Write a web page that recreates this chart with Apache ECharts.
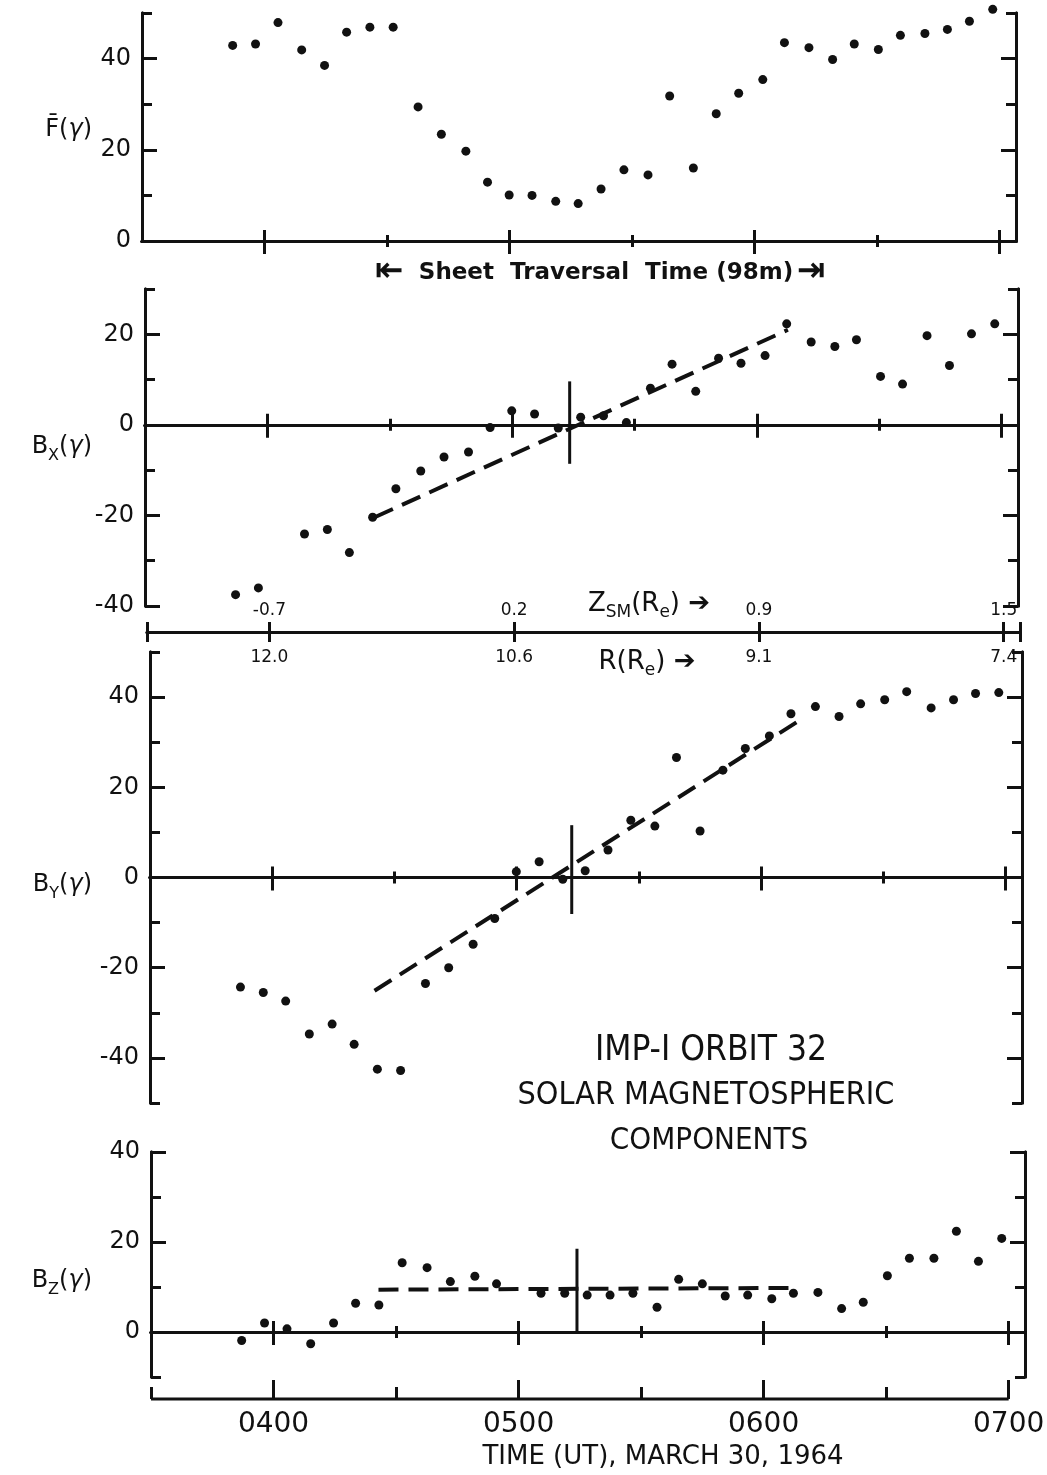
<!DOCTYPE html>
<html><head><meta charset="utf-8">
<script src="https://cdn.jsdelivr.net/npm/echarts@6/dist/echarts.min.js"></script>
<style>html,body{margin:0;padding:0;background:#fff}#c{width:1047px;height:1475px}</style>
</head><body><div id="c"></div>
<script>
// ---------- DATA ----------
// centre time of each telemetry sequence, minutes after 00:00 UT
const times = [232.2, 237.8, 243.3, 249.1, 254.7, 260.1, 265.8, 271.5, 277.6, 283.3, 289.3, 294.6, 299.9, 305.5, 311.3, 316.8, 322.4, 328.0, 333.9, 339.2, 345.0, 350.6, 356.1, 362.0, 367.3, 373.3, 379.1, 384.4, 390.3, 395.7, 401.7, 407.2, 412.6, 418.3];
const Fbar = [42.9, 43.2, 47.9, 41.9, 38.5, 45.8, 46.9, 46.9, 29.4, 23.4, 19.7, 12.9, 10.1, 10.0, 8.7, 8.2, 11.4, 15.6, 14.5, 31.8, 16.0, 27.9, 32.4, 35.4, 43.5, 42.4, 39.8, 43.2, 42.0, 45.1, 45.5, 46.4, 48.2, 50.8];
const Bx = [-37.5, -36.0, null, -24.1, -23.1, -28.2, -20.4, -14.1, -10.2, -7.1, -6.0, -0.6, 3.1, 2.4, -0.7, 1.7, 2.0, 0.5, 8.1, 13.4, 7.4, 14.7, 13.6, 15.3, 22.3, 18.3, 17.3, 18.8, 10.7, 9.0, 19.7, 13.1, 20.1, 22.3];
const By = [-24.3, -25.5, -27.4, -34.7, -32.5, -37.0, -42.5, -42.8, -23.5, -20.0, -14.8, -9.1, 1.3, 3.5, -0.4, 1.5, 6.1, 12.7, 11.4, 26.6, 10.3, 23.8, 28.6, 31.4, 36.3, 37.9, 35.7, 38.5, 39.4, 41.2, 37.6, 39.4, 40.8, 41.0];
const Bz = [-1.9, 2.0, 0.7, -2.6, 2.0, 6.4, 6.0, 15.4, 14.3, 11.2, 12.4, 10.7, null, 8.6, 8.6, 8.2, 8.2, 8.6, 5.5, 11.7, 10.7, 8.0, 8.2, 7.4, 8.6, 8.8, 5.2, 6.6, 12.5, 16.4, 16.4, 22.4, 15.7, 20.8];
// dashed trend lines across the sheet [time, value]
const bxFit = [[266.3, -20.4], [367.6, 21.0]];
const byFit = [[265.1, -25.1], [369.5, 34.9]];
const bzFit = [[265.7, 9.4], [368.5, 9.8]];
// vertical bars at the neutral-sheet crossing [time, value]
const bxMark = [[314.1, 9.6], [314.1, -8.6]];
const byMark = [[313.5, 11.6], [313.5, -8.1]];
const bzMark = [[314.3, 18.5], [314.3, 0]];
// tick labels
const timeTickLabels = ['0400', '0500', '0600', '0700'];
const halfTickLabels = ['0330', '0430', '0530', '0630'];
const zsmLabels = ['-0.7', '0.2', '0.9', '1.5'];
const rLabels = ['12.0', '10.6', '9.1', '7.4'];
const axisStart = '0330', axisEnd = '0704';

// ---------- LAYOUT / STYLE ----------
const INK = '#111';
const FONT = '"DejaVu Sans", sans-serif';
const COND = '"DejaVu Sans Condensed", "DejaVu Sans", sans-serif';
const layout = {
  F:  {left: 142, top: 13,   width: 874, height: 228, ymin: 0,   ymax: 50},
  Bx: {left: 145, top: 289,  width: 873, height: 317, ymin: -40, ymax: 30},
  S:  {left: 147, top: 631,  width: 873, height: 1},
  By: {left: 150, top: 652,  width: 872, height: 451, ymin: -50, ymax: 50},
  Bz: {left: 151, top: 1152, width: 874, height: 225, ymin: -10, ymax: 40}
};
const bottomAxisOffset = 22;

const toMin = s => parseInt(s.slice(0, 2), 10) * 60 + parseInt(s.slice(2), 10);
const hhmm = v => { const r = Math.round(v), h = Math.floor(r / 60), m = r % 60; return String(h).padStart(2, '0') + String(m).padStart(2, '0'); };
const T0 = toMin(axisStart), T1 = toMin(axisEnd);
const hourTicks = timeTickLabels.map(toMin);
const halfTicks = halfTickLabels.map(toMin);
const halfInner = halfTicks.filter(v => v > T0);
const idxOf = v => hourTicks.findIndex(t => Math.abs(t - v) < 0.01);
const line = w => ({color: INK, width: w});

const grid = [], xAxis = [], yAxis = [], series = [];

function addGrid(g) {
  grid.push({left: g.left, top: g.top, width: g.width, height: g.height, show: false, containLabel: false, outerBoundsMode: 'none'});
  return grid.length - 1;
}

function addY(gi, ymin, ymax, pos, labels) {
  const all = []; for (let v = ymin; v <= ymax; v += 10) all.push(v);
  const major = all.filter(v => v % 20 === 0), minor = all.filter(v => v % 20 !== 0);
  const common = {gridIndex: gi, type: 'value', min: ymin, max: ymax, position: pos, splitLine: {show: false},
    axisLine: {show: true, onZero: false, lineStyle: line(3)}};
  yAxis.push(Object.assign({}, common, {
    axisTick: {show: true, inside: true, length: 15, customValues: major, lineStyle: line(3)},
    axisLabel: {show: labels, customValues: major, margin: 11, color: INK, fontSize: 24, fontFamily: FONT}}));
  const idx = yAxis.length - 1;
  yAxis.push(Object.assign({}, common, {
    axisTick: {show: true, inside: true, length: 10, customValues: minor, lineStyle: line(3)},
    axisLabel: {show: false}}));
  return idx;
}

function addZeroX(gi, yi) {
  const mk = (vals, inside, len) => ({gridIndex: gi, type: 'value', min: T0, max: T1, position: 'bottom', splitLine: {show: false},
    axisLine: {show: true, onZero: true, onZeroAxisIndex: yi, lineStyle: line(3)},
    axisTick: {show: true, inside: inside, length: len, customValues: vals, lineStyle: line(3)},
    axisLabel: {show: false}});
  xAxis.push(mk(hourTicks, false, 13)); const idx = xAxis.length - 1;
  xAxis.push(mk(hourTicks, true, 11));
  xAxis.push(mk(halfInner, false, 6));
  xAxis.push(mk(halfInner, true, 6));
  return idx;
}

function addPanel(key, vals, fit, mark) {
  const L = layout[key];
  const gi = addGrid(L);
  const yi = addY(gi, L.ymin, L.ymax, 'left', true);
  addY(gi, L.ymin, L.ymax, 'right', false);
  const xi = addZeroX(gi, yi);
  series.push({type: 'scatter', xAxisIndex: xi, yAxisIndex: yi, clip: false, silent: true,
    symbol: 'circle', symbolSize: 9, itemStyle: {color: INK, opacity: 1},
    data: times.map((t, i) => [t, vals[i]]).filter(p => p[1] != null)});
  if (fit) series.push({type: 'line', xAxisIndex: xi, yAxisIndex: yi, symbol: 'none', silent: true, clip: false,
    lineStyle: {color: INK, width: 4, type: [20, 10]}, data: fit});
  if (mark) series.push({type: 'line', xAxisIndex: xi, yAxisIndex: yi, symbol: 'none', silent: true, clip: false,
    lineStyle: {color: INK, width: 3}, data: mark});
  return {gi: gi, xi: xi, yi: yi};
}

addPanel('F', Fbar, null, null);
addPanel('Bx', Bx, bxFit, bxMark);

// Z_SM / R scale
const gS = addGrid(layout.S);
yAxis.push({gridIndex: gS, type: 'value', min: 0, max: 1, show: false});
const scaleTicks = [T0].concat(hourTicks, [T1]);
xAxis.push({gridIndex: gS, type: 'value', min: T0, max: T1, position: 'bottom', splitLine: {show: false},
  axisLine: {show: true, onZero: false, lineStyle: line(3)},
  axisTick: {show: true, inside: true, length: 10, customValues: scaleTicks, lineStyle: line(3)},
  axisLabel: {show: true, inside: true, customValues: hourTicks, formatter: v => zsmLabels[idxOf(v)] || '',
    margin: 13, color: INK, fontSize: 17, fontFamily: FONT}});
xAxis.push({gridIndex: gS, type: 'value', min: T0, max: T1, position: 'bottom', splitLine: {show: false},
  axisLine: {show: true, onZero: false, lineStyle: line(3)},
  axisTick: {show: true, inside: false, length: 10, customValues: scaleTicks, lineStyle: line(3)},
  axisLabel: {show: true, inside: false, customValues: hourTicks, formatter: v => rLabels[idxOf(v)] || '',
    margin: 17, color: INK, fontSize: 17, fontFamily: FONT}});

addPanel('By', By, byFit, byMark);
const pz = addPanel('Bz', Bz, bzFit, bzMark);

// bottom time axis (its visible baseline stops at the 0700 tick, drawn below)
const hiddenLine = {show: true, onZero: false, lineStyle: {color: INK, width: 3, opacity: 0}};
xAxis.push({gridIndex: pz.gi, type: 'value', min: T0, max: T1, position: 'bottom', offset: bottomAxisOffset, splitLine: {show: false},
  axisLine: hiddenLine,
  axisTick: {show: true, inside: true, length: 19, customValues: hourTicks, lineStyle: line(3)},
  axisLabel: {show: true, customValues: hourTicks, formatter: hhmm, margin: 12, color: INK, fontSize: 28, fontFamily: FONT}});
xAxis.push({gridIndex: pz.gi, type: 'value', min: T0, max: T1, position: 'bottom', offset: bottomAxisOffset, splitLine: {show: false},
  axisLine: hiddenLine,
  axisTick: {show: true, inside: true, length: 12, customValues: halfTicks, lineStyle: line(3)},
  axisLabel: {show: false}});

// ---------- TEXT ----------
const nameRich = {
  a: {fontSize: 24, fontFamily: FONT, fill: INK, lineHeight: 34},
  g: {fontSize: 24, fontFamily: FONT, fontStyle: 'italic', fill: INK, lineHeight: 34},
  s: {fontSize: 16, fontFamily: FONT, fill: INK, lineHeight: 34, verticalAlign: 'bottom'}
};
function txt(x, y, text, opt) {
  return {type: 'text', x: x, y: y, silent: true, style: Object.assign({text: text, fill: INK, align: 'center', verticalAlign: 'middle', fontFamily: FONT, fontSize: 24}, opt || {})};
}
const graphic = [
  txt(92, 130, '{a|F\u0304(}{g|γ}{a|)}', {align: 'right', rich: nameRich}),
  txt(92, 447, '{a|B}{s|X}{a|(}{g|γ}{a|)}', {align: 'right', rich: nameRich}),
  txt(92, 885, '{a|B}{s|Y}{a|(}{g|γ}{a|)}', {align: 'right', rich: nameRich}),
  txt(92, 1281, '{a|B}{s|Z}{a|(}{g|γ}{a|)}', {align: 'right', rich: nameRich}),
  txt(389, 272, '⇤', {fontSize: 34, fontWeight: 'bold'}),
  txt(606, 273, 'Sheet  Traversal  Time (98m)', {fontWeight: 'bold', fontSize: 23}),
  txt(811, 272, '⇥', {fontSize: 34, fontWeight: 'bold'}),
  txt(649, 604, '{a|Z}{s|SM}{a|(R}{s|e}{a|) ➔}', {rich: {
    a: {fontSize: 26, fontFamily: FONT, fill: INK, lineHeight: 34},
    s: {fontSize: 17, fontFamily: FONT, fill: INK, lineHeight: 34, verticalAlign: 'bottom'}}}),
  txt(647, 662, '{a|R(R}{s|e}{a|) ➔}', {rich: {
    a: {fontSize: 26, fontFamily: FONT, fill: INK, lineHeight: 34},
    s: {fontSize: 17, fontFamily: FONT, fill: INK, lineHeight: 34, verticalAlign: 'bottom'}}}),
  txt(711, 1051, 'IMP-I ORBIT 32', {fontFamily: COND, fontSize: 35}),
  txt(706, 1096, 'SOLAR MAGNETOSPHERIC', {fontFamily: COND, fontSize: 32}),
  txt(709, 1141, 'COMPONENTS', {fontFamily: COND, fontSize: 31}),
  txt(663, 1457, 'TIME (UT), MARCH 30, 1964', {fontSize: 26})
];

const chart = echarts.init(document.getElementById('c'), null, {renderer: 'canvas'});
chart.setOption({animation: false, backgroundColor: '#fff', grid, xAxis, yAxis, series, graphic});

// bottom baseline from 0330 to the 0700 tick, positioned through the chart's own scales
const pA = chart.convertToPixel({xAxisIndex: pz.xi, yAxisIndex: pz.yi}, [T0, layout.Bz.ymin]);
const pB = chart.convertToPixel({xAxisIndex: pz.xi, yAxisIndex: pz.yi}, [hourTicks[hourTicks.length - 1], layout.Bz.ymin]);
const yBase = pA[1] + bottomAxisOffset;
chart.setOption({graphic: graphic.concat([{type: 'line', silent: true,
  shape: {x1: pA[0], y1: yBase, x2: pB[0], y2: yBase}, style: {stroke: INK, lineWidth: 3}}])});
</script></body></html>
